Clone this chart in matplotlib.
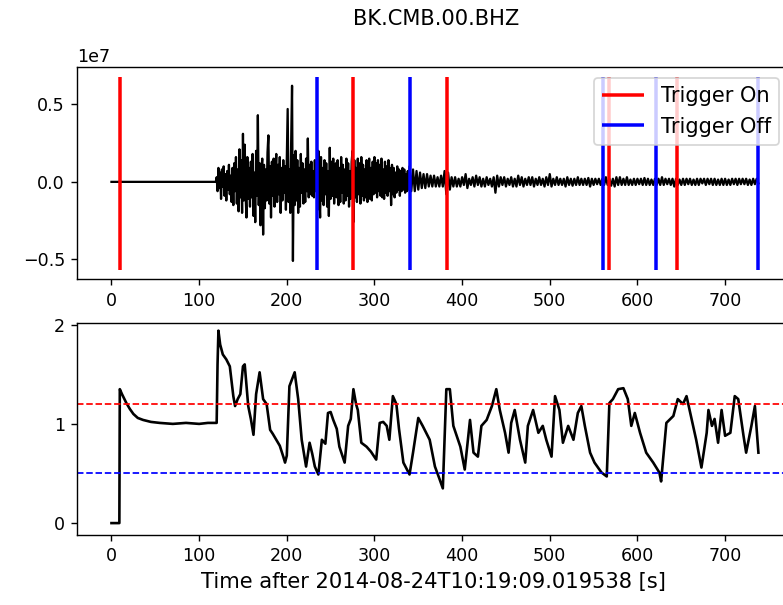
import numpy as np
import matplotlib
matplotlib.use("Agg")
import matplotlib.pyplot as plt

# ================================
# data
# ================================
station = "BK.CMB.00.BHZ"
start_time = "2014-08-24T10:19:09.019538"

# pre-event part of the trace (flat)
quiet_t = [0, 119]
quiet_amp = [0.0, 0.0]

# strong motion, x1e6 counts, one sample per second from t=120 s
strong_t0 = 120.0
strong_dt = 1.0
strong_amp = [
    0.3, -0.6, 0.9, -0.4, 0.6, -1.1, 0.8, -0.3, 1.0, -0.9,
    0.5, -1.2, 0.7, -0.5, 1.1, -0.8, 0.4, -1.3, 0.9, -1.5,
    1.2, -0.6, 1.6, -1.4, 0.8, -1.9, 2.1, -1.0, 1.4, -2.0,
    3.1, -1.2, 2.4, -0.8, -2.3, 1.6, -1.1, 0.9, -1.6, 1.3,
    -1.0, 1.8, -2.2, 0.6, -2.6, 2.0, -0.9, 4.3, -1.5, 1.2,
    -2.8, 0.7, 1.5, -3.4, 1.1, -1.7, 0.8, -1.2, 1.9, 3.0,
    -1.4, 1.0, -2.3, 1.3, -0.9, 1.5, -1.6, 0.7, 1.8, -1.3,
    1.1, -0.8, 1.6, -2.0, 0.9, -1.2, 1.4, -0.7, 1.0, -1.8,
    1.5, 4.7, -1.3, 0.8, -2.0, 2.6, 6.2, -5.1, 1.7, -1.5,
    2.0, -1.2, 1.4, -2.0, 0.9, -1.6, 1.8, -0.7, 1.2, -1.4,
    0.8, -1.3, 1.5, -0.6, 2.8, -1.0, 1.1, -0.8, 1.3, -0.9,
    0.7, -1.0, 1.4, -0.6, 1.1, -1.8, 2.0, -0.9, -2.3, 1.6,
    -1.2, 0.9, -1.5, 1.4, -0.8, 1.2, -1.6, 0.7, -2.2, 2.2,
    -1.1, 1.3, -0.9, 1.5, -1.4, 0.6, 1.2, -1.0, 1.4, -1.5,
    0.9, -1.3, 1.6, -0.7, 1.1, -1.4, 0.8, -1.2, 1.5, -0.9,
    1.2, -1.6, 0.7, -1.1, 1.3, 2.0, -2.6, 1.4, -1.0, 0.9,
    -1.3, 1.5, -0.8, 1.2, -1.4, 1.6, -0.9, 1.1, -1.2, 0.8,
    -1.0, 1.4, -1.3, 0.7, 1.5, -1.1, 0.9, -1.2, 1.3, -0.8,
    1.6, -0.7, 1.2, -1.0, 1.4, -0.6, 1.1, -0.9, 1.5, -1.0,
    0.8, -1.1, 1.3, -0.7, 1.0, -0.9, 1.4, -0.6, 0.9, -1.5,
    1.1, -0.8, 0.9, -1.0, 0.6, -0.7, 1.0, -0.5, 0.8, -0.9,
    0.7, -0.6, 0.9, -0.5, 0.8, -0.7, 0.5, -0.6, 0.7, -0.5,
]

# coda, x1e6 counts, one sample every 2 s from t=340 s
coda_t0 = 340.0
coda_dt = 2.0
coda_amp = [
    1.0, -0.6, 0.8, -0.6, 0.7, -0.5, 0.6, -0.4, 0.5, -0.4,
    0.5, -0.3, 0.4, -0.3, 0.4, -0.3, 0.3, -0.3, 0.4, -0.3,
    0.7, -0.8, 0.6, -0.5, 0.3, -0.3, 0.3, -0.3, 0.2, -0.3,
    0.3, -0.2, 0.5, -0.4, 0.2, -0.2, 0.3, -0.3, 0.4, -0.2,
    0.3, -0.3, 0.2, -0.3, 0.3, -0.2, 0.2, -0.3, 0.3, -0.7,
    0.4, -0.3, 0.3, -0.2, 0.3, -0.3, 0.2, -0.2, 0.3, -0.3,
    0.2, -0.3, 0.4, -0.2, 0.3, -0.3, 0.2, -0.2, 0.3, -0.2,
    0.3, -0.3, 0.2, -0.2, 0.3, -0.2, 0.2, -0.3, 0.3, -0.2,
    0.5, -0.3, 0.2, -0.2, 0.3, -0.2, 0.2, -0.2, 0.2, -0.3,
    0.3, -0.2, 0.2, -0.25, 0.2, -0.2, 0.3, -0.2, 0.2, -0.2,
    0.2, -0.2, 0.25, -0.3, 0.2, -0.2, 0.2, -0.15, 0.2, -0.2,
    0.2, -0.2, 0.3, -0.2, 0.2, -0.25, 0.2, -0.3, 0.3, -0.2,
    0.3, -0.2, 0.2, -0.2, 0.3, -0.2, 0.15, -0.2, 0.2, -0.2,
    0.2, -0.15, 0.2, -0.2, 0.25, -0.2, 0.2, -0.2, 0.15, -0.2,
    0.2, -0.2, 0.2, -0.2, 0.3, -0.2, 0.2, -0.15, 0.2, -0.2,
    0.2, -0.3, 0.2, -0.2, 0.15, -0.2, 0.2, -0.2, 0.2, -0.15,
    0.2, -0.2, 0.15, -0.2, 0.2, -0.2, 0.2, -0.1, 0.2, -0.2,
    0.2, -0.15, 0.2, -0.2, 0.2, -0.2, 0.15, -0.2, 0.2, -0.2,
    0.2, -0.2, 0.15, -0.2, 0.2, -0.15, 0.2, -0.2, 0.2, -0.15,
    0.2, -0.15, 0.2, -0.2, 0.15, -0.2, 0.2, -0.15, 0.2, -0.1,
]

# STA/LTA characteristic function
cft_t = [
    0, 9, 9.5, 12, 17, 21, 25, 30, 36, 45,
    55, 70, 85, 100, 110, 120, 121, 122, 124, 127,
    131, 135, 139, 141, 144, 147, 150, 152, 156, 159,
    162, 165, 169, 173, 177, 181, 184, 188, 192, 196,
    198, 200, 203, 206, 209, 213, 217, 222, 226, 229,
    232, 236, 240, 244, 247, 250, 253, 257, 260, 266,
    270, 273, 276, 279, 281, 285, 291, 296, 302, 306,
    310, 314, 317, 321, 325, 328, 333, 340, 344, 350,
    355, 363, 369, 374, 378, 382, 386, 390, 398, 403,
    409, 413, 418, 422, 428, 434, 439, 443, 449, 453,
    456, 460, 466, 472, 475, 481, 487, 492, 496, 502,
    506, 511, 515, 521, 527, 532, 536, 540, 546, 551,
    559, 565, 568, 572, 578, 584, 589, 593, 597, 603,
    610, 618, 625, 627, 633, 641, 646, 652, 656, 662,
    667, 673, 679, 681, 685, 688, 692, 696, 700, 706,
    711, 715, 721, 724, 730, 734, 738,
]
cft_val = [
    0.0, 0.0, 1.35, 1.30, 1.21, 1.15, 1.10, 1.06, 1.04, 1.02,
    1.01, 1.00, 1.01, 1.00, 1.01, 1.01, 1.60, 1.94, 1.80, 1.70,
    1.65, 1.58, 1.28, 1.18, 1.25, 1.30, 1.58, 1.60, 1.18, 1.05,
    0.89, 1.30, 1.52, 1.25, 1.20, 0.94, 0.90, 0.84, 0.78, 0.67,
    0.61, 0.68, 1.38, 1.45, 1.52, 1.25, 0.84, 0.57, 0.81, 0.70,
    0.57, 0.49, 0.84, 0.80, 1.11, 1.12, 1.04, 0.95, 0.77, 0.61,
    0.98, 1.05, 1.35, 1.20, 1.14, 0.81, 0.77, 0.72, 0.64, 1.01,
    1.02, 0.98, 0.84, 1.28, 1.20, 0.95, 0.61, 0.49, 0.71, 1.06,
    0.98, 0.84, 0.57, 0.45, 0.35, 1.35, 1.35, 0.98, 0.77, 0.54,
    1.04, 0.71, 0.67, 0.98, 1.04, 1.18, 1.35, 1.14, 0.91, 0.71,
    1.01, 1.14, 0.84, 0.61, 0.98, 1.14, 0.91, 0.98, 0.84, 0.67,
    1.28, 1.14, 0.81, 0.98, 0.84, 1.11, 1.18, 0.98, 0.71, 0.61,
    0.51, 0.47, 1.21, 1.25, 1.35, 1.36, 1.25, 0.98, 1.11, 0.91,
    0.71, 0.61, 0.51, 0.42, 1.01, 1.08, 1.25, 1.20, 1.28, 1.04,
    0.84, 0.56, 0.91, 1.14, 0.98, 1.05, 0.81, 1.14, 0.88, 0.91,
    1.28, 1.25, 0.88, 0.71, 0.98, 1.18, 0.71,
]

trigger_on = [9.5, 276, 383, 567, 645]
trigger_off = [235, 340, 561, 621, 738]
thr_on = 1.2
thr_off = 0.5


# ================================
# plot
# ================================
dpi = 126
fig = plt.figure(figsize=(783 / dpi, 605 / dpi), dpi=dpi)
ax1 = fig.add_axes([0.0987, 0.5383, 0.9102, 0.3504])
ax2 = fig.add_axes([0.0987, 0.1157, 0.9102, 0.3509], sharex=ax1)

t_strong = strong_t0 + strong_dt * np.arange(len(strong_amp))
t_coda = coda_t0 + coda_dt * np.arange(len(coda_amp))
t_all = np.concatenate([quiet_t, t_strong, t_coda])
amp_all = np.concatenate([quiet_amp, strong_amp, coda_amp]) * 1e6

ax1.plot(t_all, amp_all, "k", lw=1.3)
ymin, ymax = ax1.get_ylim()
ax1.vlines(trigger_on, ymin, ymax, color="r", lw=2, label="Trigger On")
ax1.vlines(trigger_off, ymin, ymax, color="b", lw=2, label="Trigger Off")
ax1.legend(loc="upper right", fontsize=12)
ax1.set_yticks([-5e6, 0, 5e6])
ax1.ticklabel_format(axis="y", style="sci", scilimits=(7, 7))

ax2.plot(cft_t, cft_val, "k", lw=1.5)
ax2.axhline(thr_on, color="red", lw=1, ls="--")
ax2.axhline(thr_off, color="blue", lw=1, ls="--")
ax2.set_yticks([0, 1, 2])
ax2.set_ylim(-0.12, 2.02)
ax2.set_xlabel("Time after %s [s]" % start_time, fontsize=12)

ax1.set_xticks([0, 100, 200, 300, 400, 500, 600, 700])
ax1.set_xlim(-39, 774)

fig.suptitle(station, x=0.557, y=0.985, va="top", fontsize=12)

fig.savefig("out.png", dpi=dpi)
